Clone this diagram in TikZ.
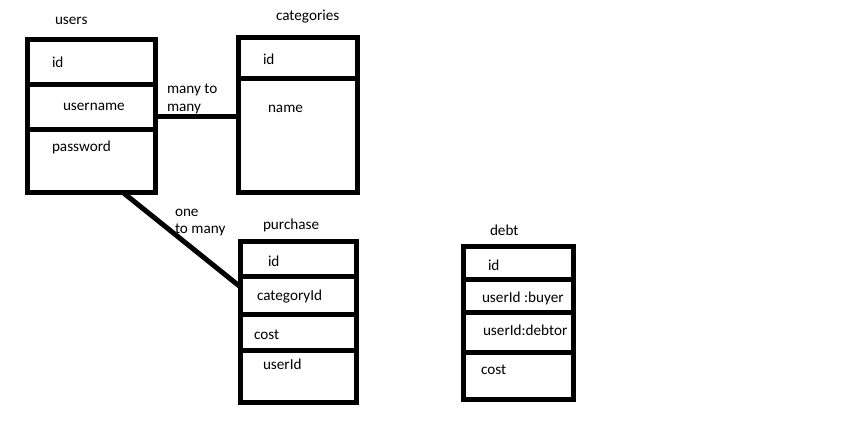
\documentclass[tikz,border=0pt]{standalone}
\usepackage{fontspec}
\setmainfont{Carlito}
\begin{document}
\begin{tikzpicture}[x=1pt,y=-1pt,
  tbl/.style={draw=black,line width=5pt,inner sep=0pt,outer sep=0pt,rectangle},
  ln/.style={draw=black,line width=5pt},
  conn/.style={draw=black,line width=5pt},
  txt/.style={anchor=base west,inner sep=0pt,outer sep=0pt,text=black,font=\fontsize{15.2}{17}\selectfont}]
\fill[white] (0,0) rectangle (845,420);
\useasboundingbox (0,0) rectangle (845,420);

% users
\node[tbl,minimum width=128pt,minimum height=152.5pt] (users) at (91.5,116.25) {};
\draw[ln] (users.west |- 0,84) -- (users.east |- 0,84);
\draw[ln] (users.west |- 0,129) -- (users.east |- 0,129);
\node[txt] (usersT) at (55,24.5) {users};
\node[txt] (uid) at (52,67) {id};
\node[txt] (uname) at (63,110) {username};
\node[txt] (upass) at (52,151) {password};

% categories
\node[tbl,minimum width=119pt,minimum height=155pt] (cats) at (298,115) {};
\draw[ln] (cats.west |- 0,78.5) -- (cats.east |- 0,78.5);
\node[txt] (catsT) at (276,21) {categories};
\node[txt] (cid) at (263,64) {id};
\node[txt] (cname) at (268,112) {name};

% purchase
\node[tbl,minimum width=116pt,minimum height=161pt] (purchase) at (298.5,322) {};
\draw[ln] (purchase.west |- 0,276) -- (purchase.east |- 0,276);
\draw[ln] (purchase.west |- 0,314.5) -- (purchase.east |- 0,314.5);
\draw[ln] (purchase.west |- 0,350.5) -- (purchase.east |- 0,350.5);
\node[txt] (purT) at (263,229) {purchase};
\node[txt] (pid) at (268,266) {id};
\node[txt] (pcat) at (257,300) {categoryId};
\node[txt] (pcost) at (254,339) {cost};
\node[txt] (puser) at (263,369) {userId};

% debt
\node[tbl,minimum width=110pt,minimum height=153pt] (debt) at (518.5,323) {};
\draw[ln] (debt.west |- 0,279.5) -- (debt.east |- 0,279.5);
\draw[ln] (debt.west |- 0,312) -- (debt.east |- 0,312);
\draw[ln] (debt.west |- 0,352.5) -- (debt.east |- 0,352.5);
\node[txt] (debtT) at (490,235) {debt};
\node[txt] (did) at (488,270) {id};
\node[txt] (dbuy) at (482,302) {userId :buyer};
\node[txt] (ddebt) at (483,335) {userId:debtor};
\node[txt] (dcost) at (481,374) {cost};

% connectors
\draw[conn] (users.east |- 0,116) -- (cats.west |- 0,116);
\node[txt] (mm1) at (167,93) {many to};
\node[txt] (mm2) at (167,111) {many};
\draw[conn] (users.south -| 123,0) -- (purchase.west |- 0,287);
\node[txt] (om1) at (175,216) {one};
\node[txt] (om2) at (175,233) {to many};
\end{tikzpicture}
\end{document}
